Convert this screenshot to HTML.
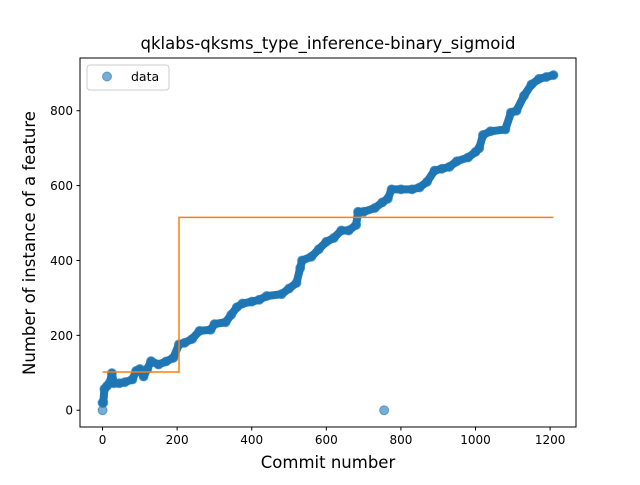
<!DOCTYPE html>
<html><head><meta charset="utf-8"><style>
body{margin:0;background:#fff}
svg{font-family:"DejaVu Sans","Liberation Sans",sans-serif}
</style></head><body>
<svg id="chart" width="640" height="480" viewBox="0 0 640 480">
<rect width="640" height="480" fill="#fff"/>
<text x="328" y="49" font-size="16.5" text-anchor="middle" fill="#000">qklabs-qksms_type_inference-binary_sigmoid</text>
<g id="marks"></g>
<rect x="80" y="58" width="496" height="369" fill="none" stroke="#000" stroke-width="1"/>
<g id="xticks"></g><g id="yticks"></g>
<text x="328" y="468" font-size="16.5" text-anchor="middle">Commit number</text>
<text transform="translate(35,243) rotate(-90)" font-size="16.5" text-anchor="middle">Number of instance of a feature</text>
<g>
<rect x="87" y="65" width="82" height="25" rx="3" fill="#fff" fill-opacity="0.8" stroke="#ccc"/>
<circle cx="107" cy="76.5" r="4.5" fill="#1f77b4" fill-opacity="0.6" stroke="#1f77b4" stroke-opacity="0.6"/>
<text x="131" y="81" font-size="12.5">data</text>
</g>
</svg>
<script>
const commits=[0,2,5,12,20,25,30,45,60,80,90,100,110,120,130,150,170,190,205,220,240,260,290,300,330,345,360,375,400,420,440,480,500,520,530,535,560,580,600,620,640,660,680,685,700,730,750,765,775,800,830,850,870,890,910,930,950,980,1000,1010,1020,1040,1080,1095,1110,1130,1150,1170,1190,1209];
const values=[20,20,57,65,75,99,72,72,75,82,105,110,90,110,131,122,130,140,176,180,190,212,215,230,235,255,275,285,290,295,305,310,325,340,380,400,410,430,450,460,480,480,495,530,530,540,555,565,590,590,590,595,610,640,645,650,665,675,690,700,735,745,750,795,800,840,870,885,890,895];
const outlierCommits=[0,755];
const outlierValues=[0,0];
const stepCommits=[0,205,205,1209];
const stepValues=[102,102,515,515];
const xTicks=[0,200,400,600,800,1000,1200];
const yTicks=[0,200,400,600,800];
const X0=80,X1=576,Y0=427,Y1=58,xmin=-60.45,xmax=1269.45,ymin=-44.8,ymax=940.8;
const sx=v=>X0+(v-xmin)/(xmax-xmin)*(X1-X0);
const sy=v=>Y0-(v-ymin)/(ymax-ymin)*(Y0-Y1);
const NS='http://www.w3.org/2000/svg';
const marks=document.getElementById('marks');
function mk(t,a,parent){const e=document.createElementNS(NS,t);for(const k in a)e.setAttribute(k,a[k]);parent.appendChild(e);return e;}
const band=mk('polyline',{points:commits.map((c,i)=>sx(c)+','+sy(values[i])).join(' '),fill:'none',stroke:'#1f77b4',"stroke-width":8,"stroke-linejoin":'round',"stroke-linecap":'round'},marks);


commits.forEach((c,i)=>{const p=mk('circle',{cx:sx(c),cy:sy(values[i]),r:4.5,fill:'#1f77b4',"fill-opacity":0.6,stroke:'#1f77b4',"stroke-opacity":0.6},marks);

});
outlierCommits.forEach((c,i)=>{const p=mk('circle',{cx:sx(c),cy:sy(outlierValues[i]),r:4.5,fill:'#1f77b4',"fill-opacity":0.6,stroke:'#1f77b4',"stroke-opacity":0.6},marks);

});
const step=mk('polyline',{points:stepCommits.map((c,i)=>sx(c)+','+sy(stepValues[i])).join(' '),fill:'none',stroke:'#ff7f0e',"stroke-width":1.5},marks);


const xg=document.getElementById('xticks'),yg=document.getElementById('yticks');
xTicks.forEach(t=>{const l=mk('line',{x1:sx(t),x2:sx(t),y1:Y0,y2:Y0+3.5,stroke:'#000'},xg);


const tx=mk('text',{x:sx(t),y:Y0+17,"font-size":12,"text-anchor":'middle'},xg);tx.textContent=t;

});
yTicks.forEach(t=>{const l=mk('line',{x1:X0-3.5,x2:X0,y1:sy(t),y2:sy(t),stroke:'#000'},yg);


const tx=mk('text',{x:X0-7,y:sy(t)+4.5,"font-size":12,"text-anchor":'end'},yg);tx.textContent=t;

});
</script>
</body></html>
